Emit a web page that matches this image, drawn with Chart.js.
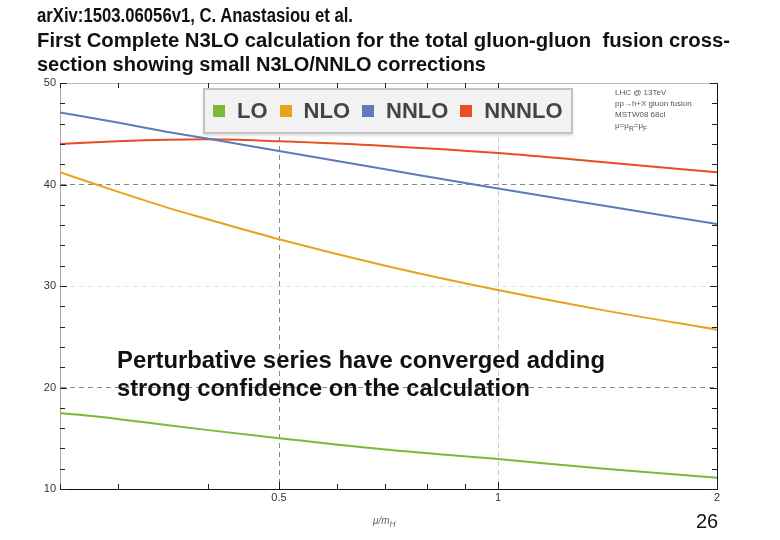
<!DOCTYPE html>
<html>
<head>
<meta charset="utf-8">
<script src="https://cdn.jsdelivr.net/npm/chart.js@4.4.1/dist/chart.umd.min.js"></script>
<style>
  body { margin: 0; background: #fff; }
  #wrap { position: relative; width: 780px; height: 540px; overflow: hidden; font-family: "Liberation Sans", Arial, sans-serif; }
  #chart { position: absolute; left: 0; top: 0; }
  .title { position: absolute; left: 37px; font-weight: bold; font-size: 20px; color: #111; white-space: nowrap;
           transform-origin: 0 0; }
  .note { position: absolute; left: 117px; font-weight: bold; font-size: 24px; color: #111; white-space: nowrap;
          transform-origin: 0 0; }
  #legend { position: absolute; left: 203px; top: 88px; width: 370px; height: 46px; background: #f2f2f2;
            border: 2px solid #c4c4c4; box-sizing: border-box; display: flex; align-items: center; padding-left: 8px;
            box-shadow: 0 2px 2px rgba(0,0,0,0.12); }
  #legend span.box { display: inline-block; flex: 0 0 12px; width: 12px; height: 12px; margin-right: 12px; }
  #legend span.lbl { font-weight: bold; font-size: 22px; color: #444; margin-right: 12px; }
  .info { position: absolute; left: 615px; font-size: 8px; color: #555; white-space: nowrap; }
  #xtitle { position: absolute; left: 373px; top: 515px; font-size: 10px; font-style: italic; color: #666; }
  #page { position: absolute; left: 696px; top: 510px; font-size: 20px; color: #111; }
</style>
</head>
<body>
<div id="wrap">
  <canvas id="chart" width="780" height="540"></canvas>
  <div class="title" data-w="316" style="top:4px">arXiv:1503.06056v1, C. Anastasiou et al.</div>
  <div class="title" data-w="693" style="top:29px">First Complete N3LO calculation for the total gluon-gluon&nbsp; fusion cross-</div>
  <div class="title" data-w="449" style="top:53px">section showing small N3LO/NNLO corrections</div>
  <div id="legend"></div>
  <div class="info" style="top:88px">LHC @ 13TeV</div>
  <div class="info" style="top:99px">pp→h+X gluon fusion</div>
  <div class="info" style="top:110px">MSTW08 68cl</div>
  <div class="info" style="top:121px">μ=μ<sub>R</sub>=μ<sub>F</sub></div>
  <div class="note" data-w="488" style="top:346px">Perturbative series have converged adding</div>
  <div class="note" data-w="413" style="top:374px">strong confidence on the calculation</div>
  <div id="xtitle">μ/m<sub>H</sub></div>
  <div id="page">26</div>
</div>
<script>
// scale ratio mu/mH
const muValues = [0.25, 0.3, 0.35, 0.4, 0.5, 0.7, 1, 1.4, 2];

// cross-section in pb
const loValues    = [17.5, 16.9, 16.3, 15.8, 15.0, 13.9, 12.95, 12.0, 11.1];
const nloValues   = [41.2, 39.3, 37.75, 36.55, 34.6, 32.0, 29.6, 27.6, 25.7];
const nnloValues  = [47.1, 46.1, 45.2, 44.5, 43.3, 41.5, 39.6, 37.9, 36.1];
const nnnloValues = [44.0, 44.25, 44.4, 44.45, 44.25, 43.8, 43.1, 42.2, 41.2];

const seriesLabels = ['LO', 'NLO', 'NNLO', 'NNNLO'];
const seriesColors = ['#7db83a', '#e8a21e', '#5a7dba', '#e84e24'];

// axis ticks
const yTicks = [10, 12, 14, 16, 18, 20, 22, 24, 26, 28, 30, 32, 34, 36, 38, 40, 42, 44, 46, 48, 50];
const yLabels = [10, 20, 30, 40, 50];
const xTicks = [0.25, 0.3, 0.4, 0.5, 0.6, 0.7, 0.8, 0.9, 1, 2];
const xLabels = [0.5, 1, 2];

// squeeze/stretch text lines to the width they have in the slide
document.querySelectorAll('.title, .note').forEach(el => {
    const w = el.getBoundingClientRect().width;
    el.style.transform = 'scaleX(' + (Number(el.dataset.w) / w) + ')';
});

function toPoints(vals) {
    return vals.map((v, i) => ({ x: muValues[i], y: v }));
}

const allValues = [loValues, nloValues, nnloValues, nnnloValues];
const datasets = allValues.map((vals, i) => ({
    label: seriesLabels[i],
    data: toPoints(vals),
    borderColor: seriesColors[i],
    backgroundColor: seriesColors[i],
    borderWidth: 2,
    pointRadius: 0,
    cubicInterpolationMode: 'monotone',
    fill: false
}));

// HTML legend built from the datasets
const legend = document.getElementById('legend');
datasets.forEach(ds => {
    const b = document.createElement('span');
    b.className = 'box';
    b.style.background = ds.borderColor;
    const t = document.createElement('span');
    t.className = 'lbl';
    t.textContent = ds.label;
    legend.appendChild(b);
    legend.appendChild(t);
});

// frame + inward ticks like the original plot
const framePlugin = {
    id: 'frame',
    afterDraw(chart) {
        const { ctx, chartArea: a, scales } = chart;
        ctx.save();
        ctx.lineWidth = 1;
        ctx.strokeStyle = '#bbb';
        ctx.beginPath();
        ctx.moveTo(a.left, a.top + 0.5);
        ctx.lineTo(a.right, a.top + 0.5);
        ctx.stroke();
        ctx.strokeStyle = '#111';
        ctx.beginPath();
        ctx.moveTo(a.right + 0.5, a.top);
        ctx.lineTo(a.right + 0.5, a.bottom);
        ctx.stroke();
        ctx.strokeStyle = '#222';
        // y ticks left and right
        yTicks.forEach(v => {
            const py = Math.round(scales.y.getPixelForValue(v)) + 0.5;
            const len = yLabels.includes(v) ? 7 : 5;
            ctx.beginPath();
            ctx.moveTo(a.left, py); ctx.lineTo(a.left + len, py);
            ctx.moveTo(a.right, py); ctx.lineTo(a.right - len, py);
            ctx.stroke();
        });
        // x ticks bottom and top
        xTicks.forEach(v => {
            const px = Math.round(scales.x.getPixelForValue(v)) + 0.5;
            const len = xLabels.includes(v) ? 7 : 5;
            ctx.beginPath();
            ctx.moveTo(px, a.bottom); ctx.lineTo(px, a.bottom - len);
            ctx.moveTo(px, a.top); ctx.lineTo(px, a.top + len);
            ctx.stroke();
        });
        ctx.restore();
    }
};

const ctx = document.getElementById('chart').getContext('2d');
new Chart(ctx, {
    type: 'line',
    data: { datasets: datasets },
    plugins: [framePlugin],
    options: {
        responsive: false,
        animation: false,
        layout: { padding: { top: 83, right: 63, left: 0, bottom: 0 } },
        plugins: { legend: { display: false }, tooltip: { enabled: false } },
        scales: {
            x: {
                type: 'logarithmic',
                min: 0.25,
                max: 2,
                afterBuildTicks: s => { s.ticks = xTicks.map(v => ({ value: v })); },
                afterFit: s => { s.height = 51; },
                ticks: {
                    autoSkip: false,
                    maxRotation: 0,
                    padding: 2,
                    color: '#333',
                    font: { family: 'Liberation Sans', size: 11 },
                    callback: v => xLabels.includes(v) ? String(v) : ''
                },
                grid: {
                    drawTicks: false,
                    color: c => c.tick.value === 0.5 ? '#888' : (c.tick.value === 1 ? '#c8c8c8' : 'rgba(0,0,0,0)'),
                    lineWidth: 1
                },
                border: { color: '#111', width: 1, dash: [5, 4] }
            },
            y: {
                min: 10,
                max: 50,
                afterBuildTicks: s => { s.ticks = yTicks.map(v => ({ value: v })); },
                afterFit: s => { s.width = 60; },
                ticks: {
                    autoSkip: false,
                    padding: 4,
                    color: '#333',
                    font: { family: 'Liberation Sans', size: 11 },
                    callback: v => yLabels.includes(v) ? String(v) : ''
                },
                grid: {
                    drawTicks: false,
                    color: c => (c.tick.value === 20 || c.tick.value === 40) ? '#888' : (c.tick.value === 30 ? '#e2e2e2' : 'rgba(0,0,0,0)'),
                    lineWidth: 1
                },
                border: { color: '#aaa', width: 1, dash: [5, 4] }
            }
        }
    }
});
</script>
</body>
</html>
